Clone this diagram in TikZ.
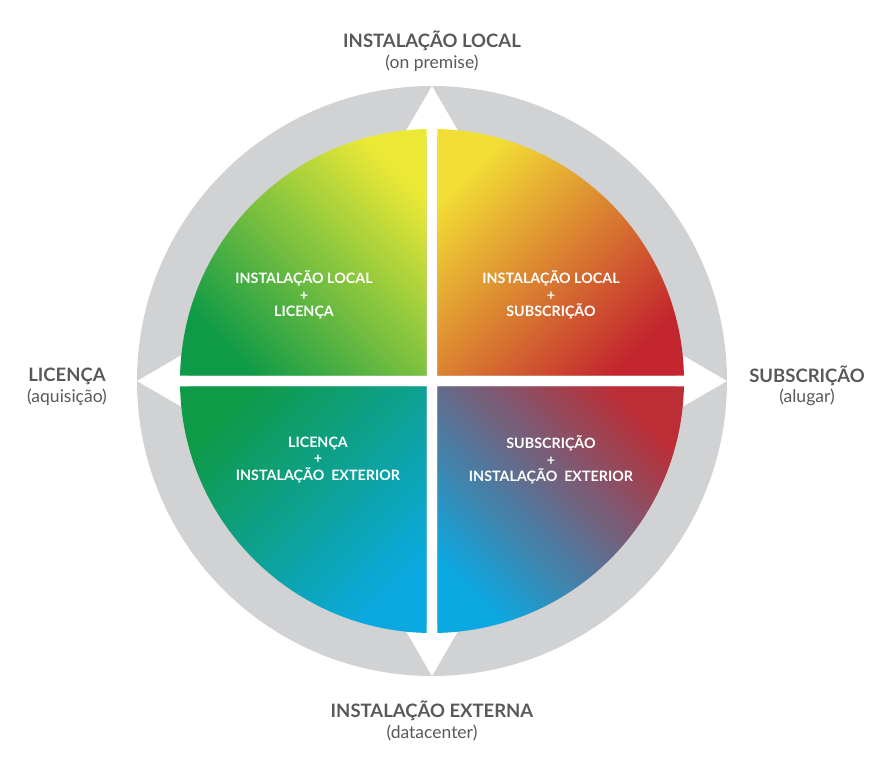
\documentclass[tikz,border=0pt]{standalone}
\usepackage{fontspec}
\setmainfont{Lato}
\usepackage{tikz}
\usetikzlibrary{positioning}
\definecolor{ringgray}{HTML}{D1D2D4}
\definecolor{labelgray}{HTML}{58595B}
\definecolor{qgreen}{HTML}{0F9A47}
\definecolor{qlime}{HTML}{8CC63F}
\definecolor{qyellow}{HTML}{EBE836}
\definecolor{qgold}{HTML}{F2DE34}
\definecolor{qorange}{HTML}{E07E2E}
\definecolor{qred}{HTML}{C3262E}
\definecolor{qteal}{HTML}{1AA19C}
\definecolor{qcyan}{HTML}{0BA9E1}
\definecolor{qmauve}{HTML}{85707A}

\begin{document}
\begin{tikzpicture}[
    x=1pt, y=1pt,
    ring/.style={fill=ringgray, draw=none},
    gapfill/.style={fill=white, draw=none},
    outertitle/.style={font=\bfseries\fontsize{18.5}{22}\selectfont, text=labelgray, inner sep=0pt},
    outersub/.style={font=\fontsize{17.5}{20}\selectfont, text=labelgray, inner sep=0pt},
    quadlabel/.style={font=\bfseries\fontsize{14.3}{16.5}\selectfont, text=white, align=center, inner sep=0pt}
]
\useasboundingbox (-432,-388) rectangle (449,381);

% outer gray ring (full disk, quadrants go on top)
\fill[ring] (0,0) circle (295);

% white cross with arrow heads
\fill[gapfill] (-5.3,-252) rectangle (5.3,252);
\fill[gapfill] (-252,-5.3) rectangle (252,5.3);
\foreach \ang in {0,90,180,270} {
    \fill[gapfill, rotate=\ang] (295,0) -- (244,29.6) -- (244,-29.6) -- cycle;
}

% quadrants
\shade[top color=qyellow, middle color=qlime, bottom color=qgreen, shading angle=-45]
    (-5.3,5.3) -- (91.2:252) arc[start angle=91.2, end angle=178.8, radius=252] -- cycle;
\shade[top color=qgold, middle color=qorange, bottom color=qred, shading angle=45]
    (5.3,5.3) -- (1.2:252) arc[start angle=1.2, end angle=88.8, radius=252] -- cycle;
\shade[top color=qgreen, middle color=qteal, bottom color=qcyan, shading angle=45]
    (-5.3,-5.3) -- (181.2:252) arc[start angle=181.2, end angle=268.8, radius=252] -- cycle;
\shade[top color=qred!90!qmauve, middle color=qmauve, bottom color=qcyan, shading angle=-45]
    (5.3,-5.3) -- (271.2:252) arc[start angle=271.2, end angle=358.8, radius=252] -- cycle;

% quadrant texts
\node[quadlabel] (qtl) at (-128,86) {INSTALAÇÃO LOCAL\\+\\LICENÇA};
\node[quadlabel] (qtr) at (119,86) {INSTALAÇÃO LOCAL\\+\\SUBSCRIÇÃO};
\node[quadlabel] (qbl) at (-114,-79) {LICENÇA\\+\\INSTALAÇÃO~~EXTERIOR};
\node[quadlabel] (qbr) at (119,-79) {SUBSCRIÇÃO\\+\\INSTALAÇÃO~~EXTERIOR};

% axis labels
\node[outertitle] (top) at (0,340) {INSTALAÇÃO LOCAL};
\node[outersub] (topsub) at (0,318) {(on premise)};
\node[outertitle] (bottom) at (0,-330) {INSTALAÇÃO EXTERNA};
\node[outersub] (bottomsub) at (0,-352) {(datacenter)};
\node[outertitle] (left) at (-365,5) {LICENÇA};
\node[outersub] (leftsub) at (-365,-16) {(aquisição)};
\node[outertitle] (right) at (375,5) {SUBSCRIÇÃO};
\node[outersub] (rightsub) at (375,-16) {(alugar)};

\end{tikzpicture}
\end{document}
